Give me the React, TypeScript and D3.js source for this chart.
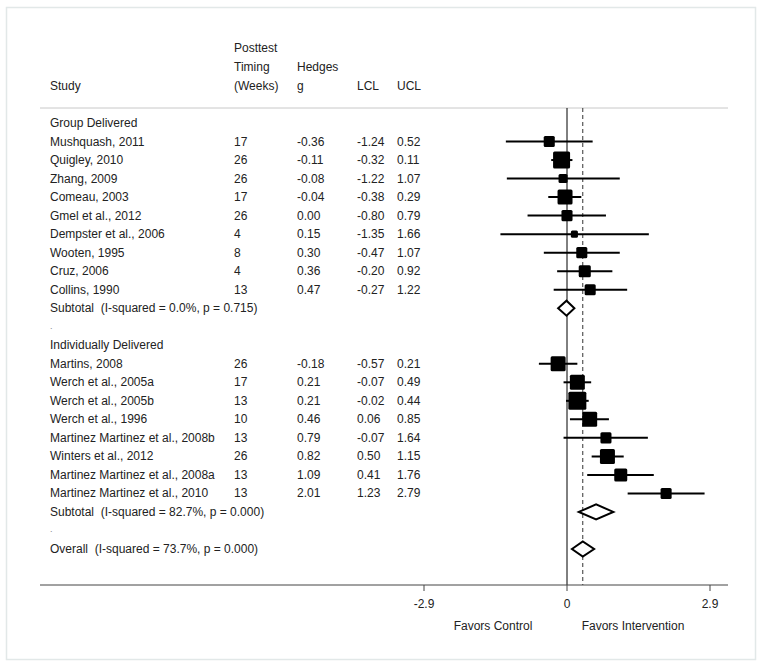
import React from "react";
import * as d3 from "d3";

// study rows (group 1 = Group Delivered, group 2 = Individually Delivered)
const studyNames = [
    "Mushquash, 2011", "Quigley, 2010", "Zhang, 2009", "Comeau, 2003", "Gmel et al., 2012",
    "Dempster et al., 2006", "Wooten, 1995", "Cruz, 2006", "Collins, 1990",
    "Martins, 2008", "Werch et al., 2005a", "Werch et al., 2005b", "Werch et al., 1996",
    "Martinez Martinez et al., 2008b", "Winters et al., 2012", "Martinez Martinez et al., 2008a",
    "Martinez Martinez et al., 2010",
];
const studyGroup = [1, 1, 1, 1, 1, 1, 1, 1, 1, 2, 2, 2, 2, 2, 2, 2, 2];
const timingWeeks = [17, 26, 26, 17, 26, 4, 8, 4, 13, 26, 17, 13, 10, 13, 26, 13, 13];
const hedgesG = [-0.36, -0.11, -0.08, -0.04, 0.0, 0.15, 0.3, 0.36, 0.47, -0.18, 0.21, 0.21, 0.46, 0.79, 0.82, 1.09, 2.01];
const lowerCL = [-1.24, -0.32, -1.22, -0.38, -0.8, -1.35, -0.47, -0.2, -0.27, -0.57, -0.07, -0.02, 0.06, -0.07, 0.5, 0.41, 1.23];
const upperCL = [0.52, 0.11, 1.07, 0.29, 0.79, 1.66, 1.07, 0.92, 1.22, 0.21, 0.49, 0.44, 0.85, 1.64, 1.15, 1.76, 2.79];
const weights = [4.2, 9.9, 2.8, 7.7, 4.2, 1.7, 4.2, 5.0, 4.2, 7.7, 7.7, 11.1, 7.7, 4.2, 7.7, 5.8, 4.2];

const groupLabels = ["Group Delivered", "Individually Delivered"];
const subtotalLabels = ["Subtotal  (I-squared = 0.0%, p = 0.715)", "Subtotal  (I-squared = 82.7%, p = 0.000)"];
const subtotalEst = [-0.01, 0.59];
const subtotalLow = [-0.18, 0.24];
const subtotalHigh = [0.15, 0.94];

const overallLabel = "Overall  (I-squared = 73.7%, p = 0.000)";
const overallEst = 0.32;
const overallLow = 0.1;
const overallHigh = 0.55;

const xTicks = [-2.9, 0, 2.9];
const xTickLabels = ["-2.9", "0", "2.9"];

const W = 763;
const H = 667;
const font = "'Liberation Sans', Arial, sans-serif";
const ink = "#222";

type Row =
    | { kind: "label"; text: string }
    | { kind: "study"; i: number }
    | { kind: "sub"; g: number }
    | { kind: "dot" }
    | { kind: "overall" };

function buildRows(): Row[] {
    const rows: Row[] = [];
    [1, 2].forEach((g, gi) => {
        rows.push({ kind: "label", text: groupLabels[gi] });
        studyNames.forEach((_, i) => {
            if (studyGroup[i] === g) rows.push({ kind: "study", i });
        });
        rows.push({ kind: "sub", g: gi });
        rows.push({ kind: "dot" });
    });
    rows.push({ kind: "overall" });
    return rows;
}

function Diamond({ x, y, lo, mid, hi, h }) {
    const d = `M${x(lo)},${y} L${x(mid)},${y - h / 2} L${x(hi)},${y} L${x(mid)},${y + h / 2} Z`;
    return <path d={d} fill="white" stroke="#000" strokeWidth={2} />;
}

export default function App() {
    const rows = buildRows();

    const x = d3.scaleLinear().domain([0, 2.9]).range([567, 710]);
    const y = d3.scaleLinear().domain([0, rows.length - 1]).range([123, 549]);
    const box = d3.scaleSqrt().domain([0, 11.1]).range([0, 18]);

    const colStudy = 50;
    const colTiming = 234;
    const colG = 297;
    const colLcl = 357;
    const colUcl = 397;
    const plotTop = 108;
    const axisY = 585;

    const txt = (props, s) => (
        <text fontFamily={font} fontSize={12} fill={ink} style={{ whiteSpace: "pre" }} {...props}>
            {s}
        </text>
    );

    return (
        <svg width={W} height={H} style={{ position: "absolute", left: 0, top: 0 }}>
            <rect x={0} y={0} width={W} height={H} fill="white" />
            <rect x={6.5} y={7.5} width={749} height={652} fill="white" stroke="#e2e8e8" strokeWidth={1.5} />

            {/* headers */}
            {txt({ x: colTiming, y: 52 }, "Posttest")}
            {txt({ x: colTiming, y: 71 }, "Timing")}
            {txt({ x: colG, y: 71 }, "Hedges")}
            {txt({ x: colStudy, y: 90 }, "Study")}
            {txt({ x: colTiming, y: 90 }, "(Weeks)")}
            {txt({ x: colG, y: 90 }, "g")}
            {txt({ x: colLcl, y: 90 }, "LCL")}
            {txt({ x: colUcl, y: 90 }, "UCL")}

            <line x1={40} x2={728} y1={plotTop} y2={plotTop} stroke="#c8c8c8" strokeWidth={1} />

            {/* reference lines */}
            <line x1={x(0)} x2={x(0)} y1={plotTop} y2={axisY} stroke="#000" strokeWidth={1} />
            <line x1={x(overallEst)} x2={x(overallEst)} y1={plotTop} y2={axisY} stroke="#333" strokeWidth={1} strokeDasharray="4,3" />

            {rows.map((r, ri) => {
                const cy = y(ri);
                const base = cy + 4;
                if (r.kind === "label") return <g key={ri}>{txt({ x: colStudy, y: base }, r.text)}</g>;
                if (r.kind === "dot") return <g key={ri}>{txt({ x: colStudy, y: base - 2, fill: "#888", fontSize: 9 }, ".")}</g>;
                if (r.kind === "sub") {
                    return (
                        <g key={ri}>
                            {txt({ x: colStudy, y: base }, subtotalLabels[r.g])}
                            <Diamond x={x} y={cy} lo={subtotalLow[r.g]} mid={subtotalEst[r.g]} hi={subtotalHigh[r.g]} h={15} />
                        </g>
                    );
                }
                if (r.kind === "overall") {
                    return (
                        <g key={ri}>
                            {txt({ x: colStudy, y: base }, overallLabel)}
                            <Diamond x={x} y={cy} lo={overallLow} mid={overallEst} hi={overallHigh} h={15} />
                        </g>
                    );
                }
                const i = r.i;
                const s = box(weights[i]);
                return (
                    <g key={ri}>
                        {txt({ x: colStudy, y: base }, studyNames[i])}
                        {txt({ x: colTiming, y: base }, String(timingWeeks[i]))}
                        {txt({ x: colG, y: base }, hedgesG[i].toFixed(2))}
                        {txt({ x: colLcl, y: base }, lowerCL[i].toFixed(2))}
                        {txt({ x: colUcl, y: base }, upperCL[i].toFixed(2))}
                        <line x1={x(lowerCL[i])} x2={x(upperCL[i])} y1={cy} y2={cy} stroke="#000" strokeWidth={2} />
                        <rect x={x(hedgesG[i]) - s / 2} y={cy - s / 2} width={s} height={s} fill="#000" rx={1.5} />
                    </g>
                );
            })}

            {/* axis */}
            <line x1={40} x2={728} y1={axisY} y2={axisY} stroke="#444" strokeWidth={1} />
            {xTicks.map((t, k) => (
                <g key={t}>
                    <line x1={x(t)} x2={x(t)} y1={axisY} y2={axisY + 6} stroke="#444" strokeWidth={1} />
                    {txt({ x: x(t), y: 608, textAnchor: "middle" }, xTickLabels[k])}
                </g>
            ))}
            {txt({ x: 493, y: 630, textAnchor: "middle" }, "Favors Control")}
            {txt({ x: 633, y: 630, textAnchor: "middle" }, "Favors Intervention")}
        </svg>
    );
}
